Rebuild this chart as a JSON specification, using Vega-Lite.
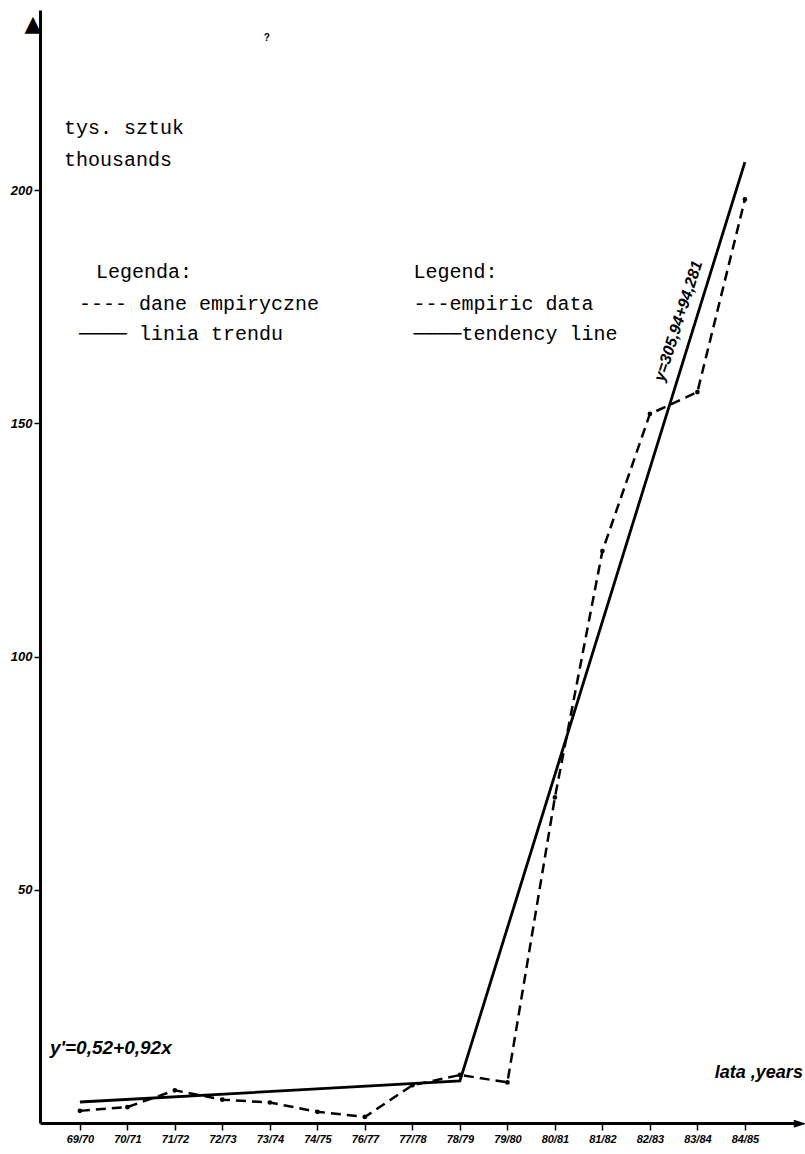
{
  "$schema": "https://vega.github.io/schema/vega-lite/v6.json",
  "width": 760,
  "height": 1113,
  "autosize": {"type": "none"},
  "padding": {"left": 40, "top": 10, "right": 5, "bottom": 31},
  "background": "white",
  "config": {"view": {"stroke": null}, "font": "Liberation Sans"},
  "data": {"values": [{}]},
  "datasets": {
    "empiric": [
      {"period": "69/70", "thousands": 2.6},
      {"period": "70/71", "thousands": 3.4},
      {"period": "71/72", "thousands": 7.0},
      {"period": "72/73", "thousands": 5.0},
      {"period": "73/74", "thousands": 4.4},
      {"period": "74/75", "thousands": 2.4},
      {"period": "76/77", "thousands": 1.3},
      {"period": "77/78", "thousands": 8.1},
      {"period": "78/79", "thousands": 10.3},
      {"period": "79/80", "thousands": 8.7},
      {"period": "80/81", "thousands": 69.8},
      {"period": "81/82", "thousands": 122.6},
      {"period": "82/83", "thousands": 152},
      {"period": "83/84", "thousands": 156.7},
      {"period": "84/85", "thousands": 198}
    ],
    "trend": [
      {"period": "69/70", "thousands": 4.5},
      {"period": "78/79", "thousands": 9.0},
      {"period": "84/85", "thousands": 206}
    ]
  },
  "layer": [
    {
      "data": {"name": "empiric"},
      "mark": {"type": "line", "strokeDash": [10, 6], "strokeWidth": 2.5, "color": "black",
               "point": {"filled": true, "size": 22, "color": "black"}},
      "encoding": {
        "x": {
          "field": "period", "type": "ordinal",
          "scale": {"type": "point", "padding": 1.21, "align": 0.42,
                    "domain": ["69/70","70/71","71/72","72/73","73/74","74/75","76/77","77/78","78/79","79/80","80/81","81/82","82/83","83/84","84/85"]},
          "axis": {"title": null, "domainColor": "black", "domainWidth": 3, "tickColor": "black", "tickWidth": 1.5, "tickSize": 7,
                   "labelFont": "Liberation Sans", "labelFontStyle": "italic", "labelFontWeight": "bold", "labelFontSize": 11,
                   "labelColor": "black", "labelPadding": 3, "labelAngle": 0, "grid": false, "labelOverlap": false}
        },
        "y": {
          "field": "thousands", "type": "quantitative",
          "scale": {"domain": [0, 238.6], "nice": false, "zero": true},
          "axis": {"title": null, "values": [50, 100, 150, 200], "domainColor": "black", "domainWidth": 3, "tickColor": "black",
                   "tickWidth": 1.5, "tickSize": 6, "labelFont": "Liberation Sans", "labelFontStyle": "italic", "labelFontWeight": "bold",
                   "labelFontSize": 13, "labelColor": "black", "labelPadding": 2, "grid": false}
        }
      }
    },
    {
      "data": {"name": "trend"},
      "mark": {"type": "line", "strokeWidth": 2.8, "color": "black"},
      "encoding": {
        "x": {"field": "period", "type": "ordinal"},
        "y": {"field": "thousands", "type": "quantitative"}
      }
    },
    {
      "mark": {"type": "text", "text": "▲", "font": "DejaVu Sans", "fontSize": 22, "baseline": "middle", "align": "center", "dx": -47, "color": "black"},
      "encoding": {"x": {"datum": "69/70", "type": "ordinal"}, "y": {"datum": 235.5, "type": "quantitative"}}
    },
    {
      "mark": {"type": "text", "text": "►", "font": "DejaVu Sans", "fontSize": 16, "baseline": "middle", "align": "center", "dx": 55, "color": "black"},
      "encoding": {"x": {"datum": "84/85", "type": "ordinal"}, "y": {"datum": 0, "type": "quantitative"}}
    },
    {
      "mark": {"type": "text", "text": "tys. sztuk", "font": "Liberation Mono", "fontSize": 20, "align": "left", "baseline": "middle", "dx": -16, "color": "black"},
      "encoding": {"x": {"datum": "69/70", "type": "ordinal"}, "y": {"datum": 213.3, "type": "quantitative"}}
    },
    {
      "mark": {"type": "text", "text": "thousands", "font": "Liberation Mono", "fontSize": 20, "align": "left", "baseline": "middle", "dx": -16, "color": "black"},
      "encoding": {"x": {"datum": "69/70", "type": "ordinal"}, "y": {"datum": 206.4, "type": "quantitative"}}
    },
    {
      "mark": {"type": "text", "text": "?", "font": "Liberation Sans", "fontSize": 10, "fontWeight": "bold", "align": "center", "baseline": "middle", "dx": -3, "color": "black"},
      "encoding": {"x": {"datum": "73/74", "type": "ordinal"}, "y": {"datum": 232.6, "type": "quantitative"}}
    },
    {
      "mark": {"type": "text", "text": "Legenda:", "font": "Liberation Mono", "fontSize": 20, "align": "left", "baseline": "middle", "dx": 16, "color": "black"},
      "encoding": {"x": {"datum": "69/70", "type": "ordinal"}, "y": {"datum": 182.4, "type": "quantitative"}}
    },
    {
      "mark": {"type": "text", "text": "---- dane empiryczne", "font": "Liberation Mono", "fontSize": 20, "align": "left", "baseline": "middle", "dx": -1, "color": "black"},
      "encoding": {"x": {"datum": "69/70", "type": "ordinal"}, "y": {"datum": 175.6, "type": "quantitative"}}
    },
    {
      "mark": {"type": "text", "text": "──── linia trendu", "font": "Liberation Mono", "fontSize": 20, "align": "left", "baseline": "middle", "dx": -1, "color": "black"},
      "encoding": {"x": {"datum": "69/70", "type": "ordinal"}, "y": {"datum": 169.1, "type": "quantitative"}}
    },
    {
      "mark": {"type": "text", "text": "Legend:", "font": "Liberation Mono", "fontSize": 20, "align": "left", "baseline": "middle", "dx": 1, "color": "black"},
      "encoding": {"x": {"datum": "77/78", "type": "ordinal"}, "y": {"datum": 182.4, "type": "quantitative"}}
    },
    {
      "mark": {"type": "text", "text": "---empiric data", "font": "Liberation Mono", "fontSize": 20, "align": "left", "baseline": "middle", "dx": 1, "color": "black"},
      "encoding": {"x": {"datum": "77/78", "type": "ordinal"}, "y": {"datum": 175.6, "type": "quantitative"}}
    },
    {
      "mark": {"type": "text", "text": "────tendency line", "font": "Liberation Mono", "fontSize": 20, "align": "left", "baseline": "middle", "dx": 1, "color": "black"},
      "encoding": {"x": {"datum": "77/78", "type": "ordinal"}, "y": {"datum": 169.1, "type": "quantitative"}}
    },
    {
      "mark": {"type": "text", "text": "y'=0,52+0,92x", "font": "Liberation Sans", "fontSize": 19, "fontWeight": "bold", "fontStyle": "italic", "align": "left", "baseline": "middle", "dx": -30, "color": "black"},
      "encoding": {"x": {"datum": "69/70", "type": "ordinal"}, "y": {"datum": 16.1, "type": "quantitative"}}
    },
    {
      "mark": {"type": "text", "text": "y=305,94+94,281", "font": "Liberation Sans", "fontSize": 16, "fontWeight": "bold", "fontStyle": "italic", "align": "center", "baseline": "middle", "angle": -72, "dx": 0, "dy": -20, "color": "black"},
      "encoding": {"x": {"datum": "83/84", "type": "ordinal"}, "y": {"datum": 170.6, "type": "quantitative"}}
    },
    {
      "mark": {"type": "text", "text": "lata ,years", "font": "Liberation Sans", "fontSize": 18, "fontWeight": "bold", "fontStyle": "italic", "align": "right", "baseline": "middle", "dx": 58, "color": "black"},
      "encoding": {"x": {"datum": "84/85", "type": "ordinal"}, "y": {"datum": 10.7, "type": "quantitative"}}
    }
  ]
}
